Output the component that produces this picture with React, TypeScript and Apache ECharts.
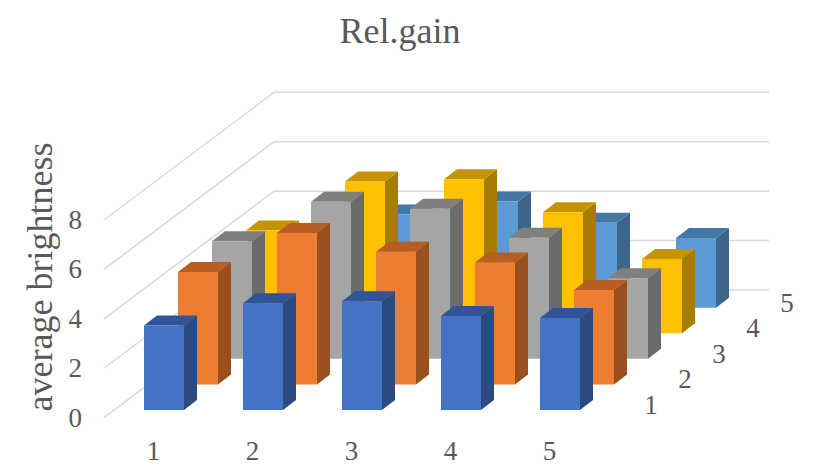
import React, { useEffect, useRef } from "react";
import * as echarts from "echarts";

const titleText = "Rel.gain";
const valueAxisName = "average brightness";
const categories = ["1", "2", "3", "4", "5"];
const depthLabels = ["1", "2", "3", "4", "5"];
const valueTicks = [0, 2, 4, 6, 8];

// One list per depth row, front row first.
const row1 = [3.42, 4.32, 4.4, 3.8, 3.72];
const row2 = [4.55, 6.13, 5.37, 4.93, 3.82];
const row3 = [4.76, 6.36, 6.07, 4.9, 3.26];
const row4 = [4.16, 6.14, 6.23, 4.9, 3.01];
const row5 = [2.6, 3.77, 4.3, 3.44, 2.82];

const rowColors = [
  { front: "#4472C4", top: "#2F5597", side: "#2A4A80" },
  { front: "#ED7D31", top: "#B85E22", side: "#9A501E" },
  { front: "#A5A5A5", top: "#7F7F7F", side: "#6B6B6B" },
  { front: "#FFC000", top: "#C49500", side: "#A67D00" },
  { front: "#5B9BD5", top: "#4477A4", side: "#3B658A" },
];

const FONT = '"Liberation Serif", serif';
const TEXT = "#595959";
const GRID = "#D9D9D9";

// Oblique projection: one depth row shifts a mark right and up by these amounts.
const DEPTH_X = 34;
const DEPTH_Y = 25.54;
const ROWS = 5;
const BAR_RATIO = 40 / 99;
const BAR_DEPTH_X = 13;
const BAR_DEPTH_Y = 10;

function barRenderer(row: number) {
  const c = rowColors[row];
  return (_params: any, api: any) => {
    const i = api.value(0);
    const top = api.coord([i, api.value(1)]);
    const base = api.coord([i, 0]);
    const w = api.size([1, 0])[0] * BAR_RATIO;
    const ox = (row + 0.5) * DEPTH_X - BAR_DEPTH_X / 2;
    const oy = (row + 0.5) * DEPTH_Y - BAR_DEPTH_Y / 2;
    const l = top[0] - w / 2 + ox;
    const r = l + w;
    const t = top[1] - oy;
    const b = base[1] - oy;
    const dx = BAR_DEPTH_X;
    const dy = BAR_DEPTH_Y;
    return {
      type: "group",
      children: [
        { type: "polygon", shape: { points: [[r, t], [r + dx, t - dy], [r + dx, b - dy], [r, b]] }, style: { fill: c.side } },
        { type: "polygon", shape: { points: [[l, t], [l + dx, t - dy], [r + dx, t - dy], [r, t]] }, style: { fill: c.top } },
        { type: "rect", shape: { x: l, y: t, width: w, height: b - t }, style: { fill: c.front } },
      ],
    };
  };
}

// Wall gridlines: a slanted run on the left wall, then a level run on the back wall.
function gridRenderer(params: any, api: any) {
  const p = api.coord([0, api.value(1)]);
  const sys = params.coordSys;
  const backX = sys.x + ROWS * DEPTH_X;
  const backY = p[1] - ROWS * DEPTH_Y;
  return {
    type: "polyline",
    shape: { points: [[sys.x, p[1]], [backX, backY], [backX + sys.width, backY]] },
    style: { stroke: GRID, lineWidth: 1.5, fill: "none" },
  };
}

function depthLabelRenderer(params: any, api: any) {
  const row = params.dataIndex;
  const p = api.coord([api.value(0), 0]);
  const half = api.size([1, 0])[0] / 2;
  return {
    type: "text",
    x: p[0] + half + (row + 0.5) * DEPTH_X + 35,
    y: p[1] - (row + 0.5) * DEPTH_Y,
    style: {
      text: depthLabels[row],
      font: `27px ${FONT}`,
      fill: TEXT,
      textAlign: "center",
      textVerticalAlign: "middle",
    },
  };
}

export default function App() {
  const ref = useRef<HTMLDivElement>(null);

  useEffect(() => {
    const chart = echarts.init(ref.current!, undefined, { renderer: "svg" });
    const rows = [row1, row2, row3, row4, row5];
    const backToFront = [4, 3, 2, 1, 0].map((row) => ({
      type: "custom" as const,
      name: depthLabels[row],
      renderItem: barRenderer(row),
      encode: { x: 0, y: 1 },
      data: rows[row].map((v, i) => [i, v]),
    }));

    chart.setOption({
      animation: false,
      backgroundColor: "#FFFFFF",
      title: {
        text: titleText,
        left: 395,
        top: 8,
        textAlign: "center",
        textStyle: { fontFamily: FONT, fontSize: 36, fontWeight: "normal", color: TEXT },
      },
      grid: { left: 104, right: 215, top: 220, bottom: 49.3 },
      xAxis: {
        type: "category",
        data: categories,
        axisLine: { show: false },
        axisTick: { show: false },
        axisLabel: { fontFamily: FONT, fontSize: 27, color: TEXT, margin: 20 },
      },
      yAxis: {
        type: "value",
        min: 0,
        max: 8,
        interval: 2,
        splitLine: { show: false },
        axisLine: { show: false },
        axisTick: { show: false },
        axisLabel: { fontFamily: FONT, fontSize: 27, color: TEXT, margin: 22 },
      },
      graphic: [
        {
          type: "text",
          x: 40,
          y: 277,
          rotation: Math.PI / 2,
          style: {
            text: valueAxisName,
            font: `36px ${FONT}`,
            fill: TEXT,
            textAlign: "center",
            textVerticalAlign: "middle",
          },
        },
      ],
      series: [
        {
          type: "custom",
          renderItem: gridRenderer,
          encode: { x: 0, y: 1 },
          data: valueTicks.map((v) => [0, v]),
        },
        ...backToFront,
        {
          type: "custom",
          renderItem: depthLabelRenderer,
          encode: { x: 0, y: 1 },
          data: depthLabels.map(() => [categories.length - 1, 0]),
        },
      ],
    });

    return () => chart.dispose();
  }, []);

  return (
    <div
      ref={ref}
      style={{ position: "absolute", left: 0, top: 0, width: 814, height: 467 }}
    />
  );
}
